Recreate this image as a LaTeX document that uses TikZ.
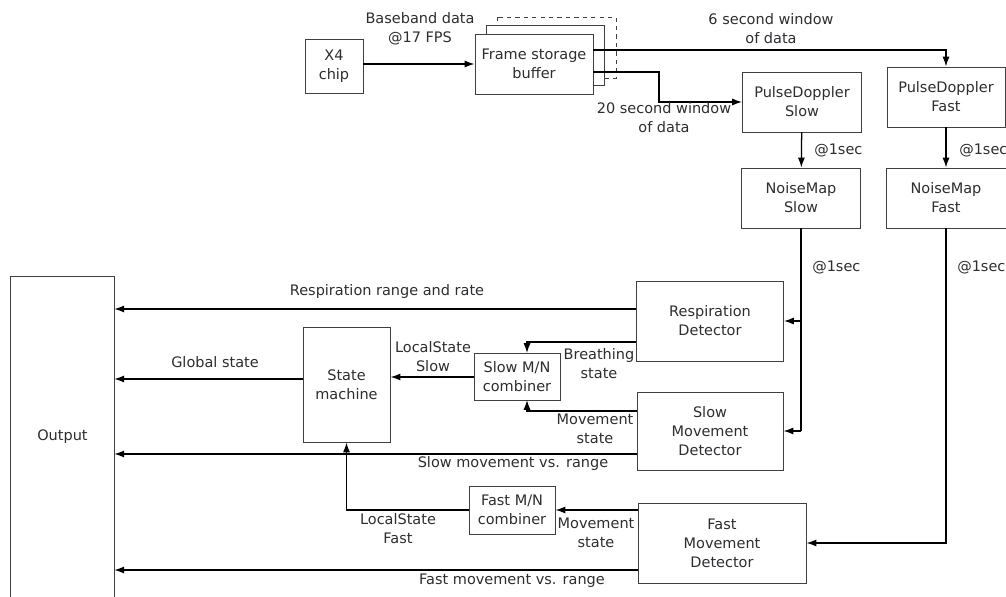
\documentclass[tikz,border=0pt]{standalone}
\usepackage{fontspec}
\setmainfont{DejaVu Sans}
\usetikzlibrary{arrows.meta}
\definecolor{boxgray}{RGB}{64,64,64}
\definecolor{txtgray}{RGB}{45,45,50}
\begin{document}
\begin{tikzpicture}[x=0.025cm,y=-0.025cm,
		font=\fontsize{10.3}{13.4}\selectfont,
		every node/.style={text=txtgray},
		box/.style={draw=boxgray,line width=0.7pt,fill=white,align=center,inner sep=0pt},
		lbl/.style={align=center,inner sep=0pt},
		arr/.style={-{Latex[length=7pt,width=5pt]},line width=0.9pt,black},
		wire/.style={line width=0.9pt,black}
	]
	\def\u{0.025cm}
	\useasboundingbox (0,0) rectangle (1006,597);
	% input side
	\node[box,minimum width=58*\u,minimum height=54*\u] (xfour) at (334,66) {X4\\chip};
	\draw[draw=boxgray,line width=0.7pt,dashed] (497,17) rectangle (616,78);
	\draw[draw=boxgray,line width=0.7pt,fill=white] (486,25) rectangle (604,85);
	\node[box,minimum width=118*\u,minimum height=60*\u] (frame) at (534,64) {Frame storage\\buffer};
	\draw[arr] (xfour.east |- frame.west) -- (frame.west);
	\node[lbl] (lblbase) at (420,29) {Baseband data\\@17 FPS};
	% pulse doppler and noise maps
	\node[box,minimum width=119*\u,minimum height=60*\u] (pdslow) at (802,102) {PulseDoppler\\Slow};
	\node[box,minimum width=118*\u,minimum height=60*\u] (pdfast) at (946,97) {PulseDoppler\\Fast};
	\node[box,minimum width=119*\u,minimum height=60*\u] (nmslow) at (801,198) {NoiseMap\\Slow};
	\node[box,minimum width=120*\u,minimum height=60*\u] (nmfast) at (946,198) {NoiseMap\\Fast};
	\draw[arr] (frame.east |- 0,50) -| (pdfast.north);
	\node[lbl] (lblsix) at (771,29) {6 second window\\of data};
	\draw[arr] (frame.east |- 0,72) -| (659,85) |- (pdslow.west);
	\node[lbl] (lbltwenty) at (664,118) {20 second window\\of data};
	\draw[arr] (pdslow) -- (nmslow);
	\draw[arr] (pdfast) -- (nmfast);
	\node[lbl,anchor=west] (lblsecA) at (814,150) {@1sec};
	\node[lbl,anchor=west] (lblsecB) at (959,150) {@1sec};
	\node[lbl,anchor=west] (lblsecC) at (812,267) {@1sec};
	\node[lbl,anchor=west] (lblsecD) at (957,267) {@1sec};
	% detectors
	\node[box,minimum width=147*\u,minimum height=80*\u] (resp) at (710,321) {Respiration\\Detector};
	\node[box,minimum width=146*\u,minimum height=78*\u] (smd) at (710,431) {Slow\\Movement\\Detector};
	\node[box,minimum width=168*\u,minimum height=80*\u] (fmd) at (722,543) {Fast\\Movement\\Detector};
	\draw[wire] (nmslow.south) -- (nmslow.south |- smd.east);
	\draw[arr] (nmslow.south |- resp.east) -- (resp.east);
	\draw[arr] (nmslow.south |- smd.east) -- (smd.east);
	\draw[arr] (nmfast.south) |- (fmd.east);
	% combiners and state machine
	\node[box,minimum width=86*\u,minimum height=47*\u] (slowcomb) at (517,377) {Slow M/N\\combiner};
	\node[box,minimum width=86*\u,minimum height=48*\u] (fastcomb) at (512,510) {Fast M/N\\combiner};
	\node[box,minimum width=87*\u,minimum height=115*\u] (statem) at (346.5,384.5) {State\\machine};
	\draw[arr] (resp.west |- 0,342) -| (527,353);
	\node[lbl] (lblbreath) at (599,364) {Breathing\\state};
	\draw[arr] (smd.west |- 0,411) -| (527,400);
	\node[lbl] (lblmovA) at (595,429) {Movement\\state};
	\draw[arr] (slowcomb.west) -- (statem.east |- slowcomb.west);
	\node[lbl] (lbllocslow) at (433,357) {LocalState\\Slow};
	\draw[arr] (fmd.west |- fastcomb.east) -- (fastcomb.east);
	\node[lbl] (lblmovB) at (596,533) {Movement\\state};
	\draw[arr] (fastcomb.west) -| (statem.south);
	\node[lbl] (lbllocfast) at (398,529) {LocalState\\Fast};
	% output
	\node[minimum width=103*\u,minimum height=320*\u,inner sep=0pt] (output) at (62.5,437) {Output};
	\draw[draw=boxgray,line width=0.7pt] (output.south west) -- (output.north west) -- (output.north east) -- (output.south east);
	\draw[arr] (resp.west |- 0,309) -- (output.east |- 0,309);
	\node[lbl] (lblresp) at (387,292) {Respiration range and rate};
	\draw[arr] (statem.west |- 0,379) -- (output.east |- 0,379);
	\node[lbl] (lblglobal) at (215,362) {Global state};
	\draw[arr] (smd.west |- 0,454) -- (output.east |- 0,454);
	\node[lbl] (lblslowmv) at (513,464) {Slow movement vs. range};
	\draw[arr] (fmd.west |- 0,570) -- (output.east |- 0,570);
	\node[lbl] (lblfastmv) at (512,581) {Fast movement vs. range};
\end{tikzpicture}
\end{document}
